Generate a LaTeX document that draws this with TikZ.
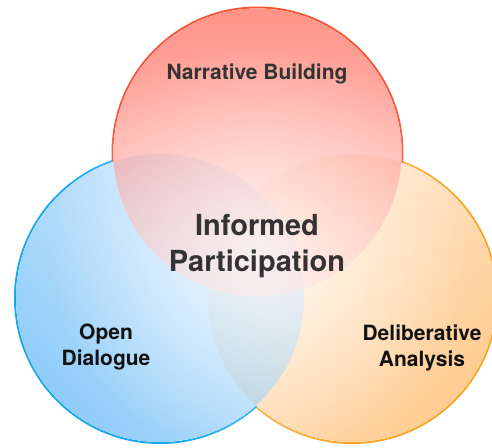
\documentclass[tikz,border=0pt]{standalone}
\usepackage{fontspec}
\setmainfont{TeX Gyre Heros}
\usetikzlibrary{fadings}
\tikzfading[name=glowfade,inner color=transparent!0,outer color=transparent!100]
\definecolor{narrline}{RGB}{244,84,52}
\definecolor{dialline}{RGB}{20,166,240}
\definecolor{analline}{RGB}{250,164,36}
\definecolor{narrtop}{RGB}{255,75,55}
\definecolor{narrmid}{RGB}{255,165,160}
\definecolor{narrbot}{RGB}{255,200,200}
\definecolor{dialdark}{RGB}{70,172,247}
\definecolor{diallight}{RGB}{188,222,252}
\definecolor{analdark}{RGB}{255,178,86}
\definecolor{anallight}{RGB}{255,229,201}
\definecolor{titlegray}{RGB}{51,51,51}
\definecolor{labelblack}{RGB}{17,17,17}
\begin{document}
\begin{tikzpicture}[x=1pt,y=-1pt,
 ring/.style={line width=2pt},
 disc/.style={fill opacity=0.6},
 sidelbl/.style={font=\bfseries\fontsize{21}{26}\selectfont,align=center,text=labelblack},
 toplbl/.style={font=\bfseries\fontsize{21}{26}\selectfont,text=titlegray},
 midlbl/.style={font=\bfseries\fontsize{29}{36}\selectfont,align=center,text=titlegray}]
\useasboundingbox (0,0) rectangle (492,447);
\coordinate (narr) at (257.5,152.5);
\coordinate (dial) at (160,298);
\coordinate (anal) at (352,298);
\draw[ring,analline] (anal) circle (145pt);
\draw[ring,dialline] (dial) circle (145pt);
\draw[ring,narrline] (narr) circle (145pt);
\fill[white] (anal) circle (144pt) (dial) circle (144pt) (narr) circle (144pt);
\shade[disc,fill opacity=0.65,top color=anallight,bottom color=analdark,shading angle=45] (anal) circle (144pt);
\shade[disc,top color=diallight,bottom color=dialdark,shading angle=-45] (dial) circle (144pt);
\shade[disc,top color=narrtop,middle color=narrmid,bottom color=narrbot] (narr) circle (144pt);
\fill[white,fill opacity=0.75,path fading=glowfade] (258,252) circle (210pt);
\node[toplbl] (nb) at (257,73.5) {Narrative Building};
\node[midlbl] (ip) at (257,246) {Informed\\Participation};
\node[sidelbl] (od) at (106,347.5) {Open\\Dialogue};
\node[sidelbl] (da) at (422,347.5) {Deliberative\\Analysis};
\end{tikzpicture}
\end{document}
